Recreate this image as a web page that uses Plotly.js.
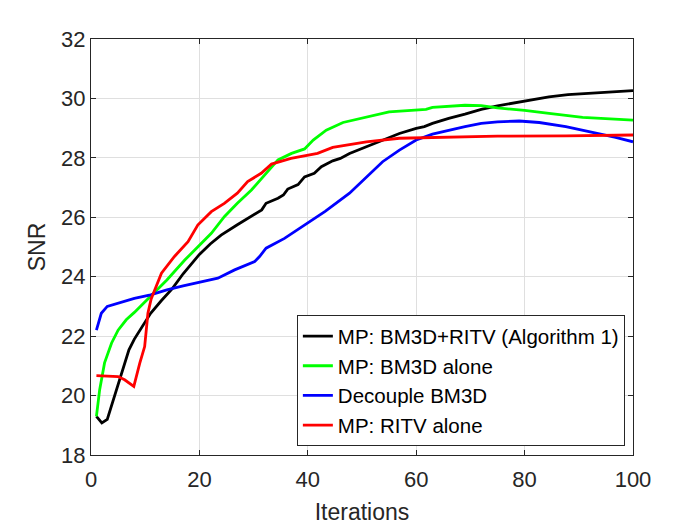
<!DOCTYPE html>
<html>
<head>
<meta charset="utf-8">
<script src="https://cdn.plot.ly/plotly-3.0.1.min.js"></script>
<style>html,body{margin:0;padding:0;background:#fff;}#chart{width:700px;height:525px;}</style>
</head>
<body>
<div id="chart"></div>
<script>
// Series names
var seriesNames = ["MP: BM3D+RITV (Algorithm 1)", "MP: BM3D alone", "Decouple BM3D", "MP: RITV alone"];

// MP: BM3D+RITV (Algorithm 1)
var xBoth = [1,2,3,4,5,6,7,8,9,10,11,13,15,17,20,22,24,27,30,31.5,32.3,34.5,35.5,36.3,38.2,39.4,41.2,42.5,44.6,46,47.7,50.8,53.8,56.9,60,61.5,63,66,69,72,75,80,84.5,88,94,100];
var yBoth = [19.3,19.08,19.2,19.8,20.42,21.0,21.54,21.9,22.2,22.5,22.77,23.2,23.6,24.1,24.75,25.1,25.4,25.75,26.1,26.25,26.47,26.64,26.75,26.95,27.1,27.36,27.48,27.7,27.9,27.98,28.15,28.37,28.6,28.82,28.99,29.05,29.16,29.33,29.47,29.63,29.75,29.92,30.05,30.13,30.2,30.26];

// MP: BM3D alone
var xBM3D = [1,1.6,2.5,3.8,5,6.5,8,11,14,17.3,19.7,22.2,24.6,27,29.6,32,34.5,37,39.4,41,43.4,46.5,50.8,55,61.8,63,69,72,75,80,84.5,90.7,100];
var yBM3D = [19.3,20.2,21.1,21.77,22.2,22.55,22.8,23.33,23.89,24.56,25.01,25.46,26.02,26.47,26.92,27.42,27.93,28.15,28.3,28.6,28.93,29.19,29.38,29.55,29.63,29.7,29.77,29.76,29.68,29.6,29.5,29.36,29.27];

// Decouple BM3D
var xDec = [1,1.9,3,5,8,11,14,17,20,23.4,26.5,30.2,31.1,32.3,35.7,39.4,43.2,47.7,50.8,53.8,56.9,60,63,66,69,72,75,79,82.7,87.6,92,96.8,100];
var yDec = [22.2,22.77,23.0,23.1,23.27,23.39,23.56,23.69,23.8,23.95,24.23,24.51,24.68,24.96,25.29,25.74,26.2,26.81,27.36,27.87,28.26,28.6,28.8,28.93,29.05,29.16,29.21,29.24,29.19,29.05,28.88,28.69,28.54];

// MP: RITV alone
var xRITV = [1,5,6.2,7.9,9,9.9,10.5,11.1,13,15.4,17.9,19.7,22.2,24.6,27,28.9,31.4,33.3,36.9,41.8,44.6,50.8,56.9,63,75,87.6,100];
var yRITV = [20.67,20.64,20.53,20.31,21.09,21.65,22.77,23.25,24.12,24.68,25.18,25.74,26.19,26.47,26.81,27.2,27.48,27.79,27.98,28.15,28.35,28.54,28.66,28.69,28.73,28.74,28.77];

// Axis ticks
var xTicks = [0,20,40,60,80,100];
var yTicks = [18,20,22,24,26,28,30,32];

var colors = ["#000000", "#00ff00", "#0000ff", "#ff0000"];
var xs = [xBoth, xBM3D, xDec, xRITV];
var ys = [yBoth, yBM3D, yDec, yRITV];

var traces = [];
for (var i = 0; i < 4; i++) {
  traces.push({
    x: xs[i], y: ys[i], type: "scatter", mode: "lines", name: seriesNames[i],
    line: {color: colors[i], width: 2.8}
  });
}

var FONT = "Liberation Sans, Arial, sans-serif";
var axisCommon = {
  showline: true, linecolor: "#262626", linewidth: 1, mirror: "ticks",
  ticks: "inside", ticklen: 5, tickcolor: "#262626",
  showgrid: true, gridcolor: "#dfdfdf", gridwidth: 1, zeroline: false,
  tickfont: {family: FONT, size: 22, color: "#262626"}
};

var layout = {
  width: 700, height: 525,
  paper_bgcolor: "#ffffff", plot_bgcolor: "#ffffff",
  margin: {l: 91, r: 67, t: 39, b: 70},
  showlegend: true,
  legend: {
    x: 0.985, xanchor: "right", y: 0.021, yanchor: "bottom",
    bgcolor: "#ffffff", bordercolor: "#262626", borderwidth: 1,
    font: {family: FONT, size: 20.5, color: "#000000"},
    tracegroupgap: 0
  },
  xaxis: Object.assign({}, axisCommon, {
    range: [0, 100], tickvals: xTicks, ticktext: xTicks.map(String),
    ticklabelstandoff: 5,
    title: {text: "Iterations", font: {family: FONT, size: 23, color: "#262626"}, standoff: 12}
  }),
  yaxis: Object.assign({}, axisCommon, {
    range: [18, 32], tickvals: yTicks, ticktext: yTicks.map(String),
    title: {text: "SNR", font: {family: FONT, size: 23, color: "#262626"}, standoff: 9}
  })
};

Plotly.newPlot("chart", traces, layout, {displayModeBar: false, staticPlot: true});
</script>
</body>
</html>
